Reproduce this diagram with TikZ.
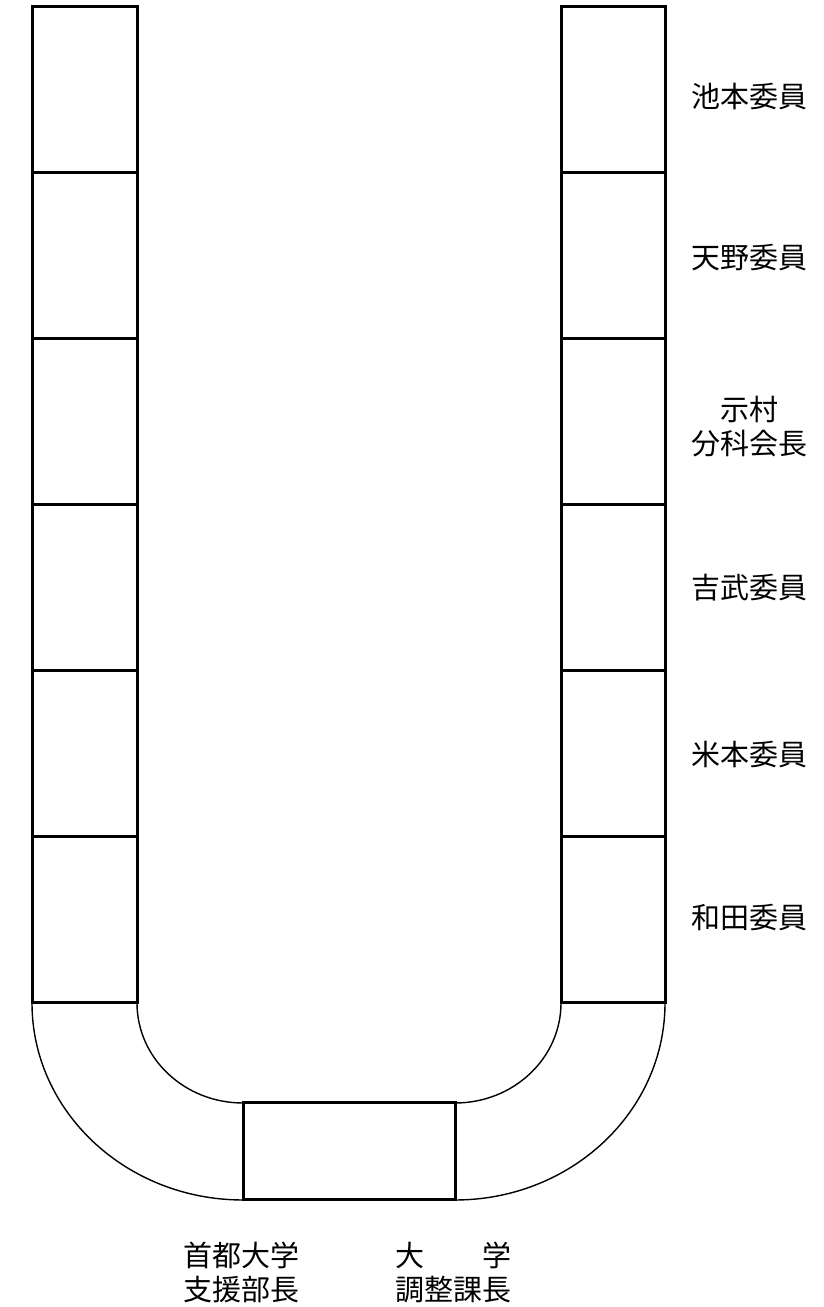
\documentclass[tikz,border=0pt]{standalone}
\usepackage{fontspec}
\newfontfamily\jpfont{Noto Sans CJK JP}
\begin{document}
\begin{tikzpicture}[x=1pt,y=1pt,
  desk/.style={draw=black,line width=3pt},
  curve/.style={draw=black,line width=1.4pt},
  lbl/.style={font=\jpfont\fontsize{29}{34}\selectfont,align=center,inner sep=0pt}]
\useasboundingbox (0,0) rectangle (823,1307);
% desks along both sides
\foreach \t/\b in {1300/1134,1134/968,968/802,802/636,636/470,470/304}{
  \draw[desk] (32,\b) rectangle (137,\t);
  \draw[desk] (561,\b) rectangle (665,\t);
}
% centre desk
\draw[desk] (243,107) rectangle (455,204);
% curved parts
\draw[curve] (32,304) arc[start angle=180,end angle=270,x radius=211pt,y radius=197pt];
\draw[curve] (137,304) arc[start angle=180,end angle=270,x radius=106pt,y radius=100pt];
\draw[curve] (561,304) arc[start angle=0,end angle=-90,x radius=106pt,y radius=100pt];
\draw[curve] (665,304) arc[start angle=0,end angle=-90,x radius=210pt,y radius=197pt];
% labels
\node[lbl] (l1) at (749,1210) {池本委員};
\node[lbl] (l2) at (749,1049) {天野委員};
\node[lbl] (l3) at (749,880) {示村\\分科会長};
\node[lbl] (l4) at (749,719) {吉武委員};
\node[lbl] (l5) at (749,552) {米本委員};
\node[lbl] (l6) at (749,389) {和田委員};
\node[lbl] (b1) at (241,35) {首都大学\\支援部長};
\node[lbl] (b2) at (453,35) {大　　学\\調整課長};
\end{tikzpicture}
\end{document}
